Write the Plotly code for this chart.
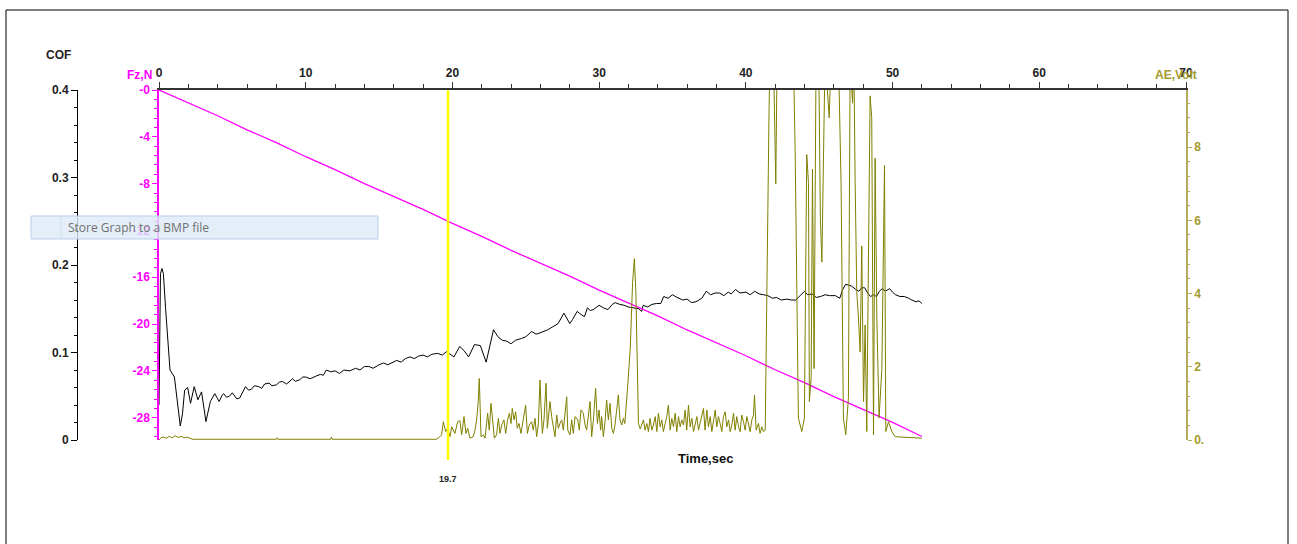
import plotly.graph_objects as go

# ---------------- data ----------------
# COF (time s, coefficient of friction)
cof_points = [
    (0.0, 0.04), (0.1, 0.19), (0.2, 0.196), (0.3, 0.19), (0.45, 0.15), (0.6, 0.12), (0.75, 0.08),
    (1.05, 0.072), (1.25, 0.04), (1.45, 0.016), (1.6, 0.03), (1.75, 0.057), (1.95, 0.06),
    (2.15, 0.042), (2.4, 0.061), (2.65, 0.046), (2.9, 0.055), (3.05, 0.04), (3.2, 0.021),
    (3.5, 0.044), (3.8, 0.053), (4.0, 0.047), (4.1, 0.044), (4.3, 0.051), (4.4, 0.053),
    (4.6, 0.049), (4.8, 0.050), (5.0, 0.054), (5.1, 0.052), (5.3, 0.047), (5.5, 0.048),
    (5.7, 0.055), (5.9, 0.061), (6.1, 0.057), (6.3, 0.058), (6.5, 0.062), (6.8, 0.061),
    (7.0, 0.059), (7.2, 0.064), (7.5, 0.065), (7.7, 0.062), (8.0, 0.063), (8.2, 0.066),
    (8.4, 0.067), (8.7, 0.064), (9.1, 0.070), (9.3, 0.067), (9.6, 0.069), (9.8, 0.072),
    (10.0, 0.072), (10.3, 0.070), (10.7, 0.073), (11.0, 0.075), (11.2, 0.074), (11.4, 0.080),
    (11.7, 0.078), (12.0, 0.079), (12.3, 0.076), (12.6, 0.080), (13.0, 0.079), (13.4, 0.082),
    (13.7, 0.080), (14.0, 0.084), (14.3, 0.084), (14.6, 0.082), (15.0, 0.086), (15.3, 0.088),
    (15.6, 0.086), (15.9, 0.089), (16.2, 0.091), (16.5, 0.089), (16.8, 0.093), (17.1, 0.095),
    (17.4, 0.093), (17.7, 0.096), (18.0, 0.097), (18.3, 0.095), (18.6, 0.098), (19.0, 0.099),
    (19.3, 0.097), (19.6, 0.101), (20.1, 0.095), (20.5, 0.107), (20.8, 0.102), (21.1, 0.095),
    (21.5, 0.109), (21.9, 0.108), (22.3, 0.089), (22.8, 0.126), (23.1, 0.118), (23.4, 0.114),
    (23.7, 0.113), (24.0, 0.110), (24.3, 0.114), (24.7, 0.116), (25.0, 0.118), (25.4, 0.124),
    (25.7, 0.121), (25.9, 0.122), (26.2, 0.124), (26.5, 0.126), (26.8, 0.129), (27.2, 0.133),
    (27.6, 0.145), (28.0, 0.133), (28.2, 0.138), (28.5, 0.147), (28.8, 0.143), (29.0, 0.141),
    (29.2, 0.151), (29.4, 0.148), (29.6, 0.149), (29.8, 0.152), (30.0, 0.154), (30.3, 0.151),
    (30.6, 0.149), (30.9, 0.155), (31.1, 0.157), (31.4, 0.155), (31.7, 0.154), (32.0, 0.152),
    (32.4, 0.151), (32.7, 0.150), (32.9, 0.147), (33.0, 0.154), (33.3, 0.152), (33.6, 0.155),
    (33.9, 0.156), (34.2, 0.156), (34.4, 0.164), (34.7, 0.162), (35.0, 0.166), (35.3, 0.163),
    (35.7, 0.160), (36.0, 0.161), (36.3, 0.157), (36.6, 0.158), (37.0, 0.162), (37.3, 0.170),
    (37.6, 0.166), (37.9, 0.168), (38.2, 0.168), (38.5, 0.165), (38.8, 0.169), (39.0, 0.167),
    (39.3, 0.172), (39.6, 0.168), (40.0, 0.169), (40.3, 0.166), (40.6, 0.170), (40.9, 0.167),
    (41.2, 0.166), (41.5, 0.165), (41.8, 0.162), (42.1, 0.163), (42.4, 0.160), (42.8, 0.161),
    (43.1, 0.160), (43.4, 0.160), (43.7, 0.165), (44.0, 0.170), (44.2, 0.166), (44.5, 0.167),
    (44.8, 0.163), (45.1, 0.164), (45.4, 0.166), (45.7, 0.165), (46.1, 0.165), (46.4, 0.162),
    (46.6, 0.172), (46.8, 0.178), (47.0, 0.177), (47.2, 0.176), (47.5, 0.172), (47.7, 0.170),
    (47.9, 0.174), (48.1, 0.174), (48.3, 0.168), (48.5, 0.164), (48.7, 0.166), (48.9, 0.164),
    (49.1, 0.170), (49.3, 0.173), (49.5, 0.170), (49.8, 0.173), (50.0, 0.169), (50.2, 0.166),
    (50.5, 0.164), (50.8, 0.164), (51.1, 0.162), (51.3, 0.160), (51.6, 0.158), (51.8, 0.159),
    (52.0, 0.156),
]
cof_t = [p[0] for p in cof_points]
cof_v = [p[1] for p in cof_points]

# Normal force Fz (time s, N)
fz_t = [0, 2, 4, 6, 8, 10, 12, 14, 16, 18, 20, 22, 24, 26, 28, 30, 32, 34, 36, 38, 40, 42, 44, 46,
        48, 50, 52]
fz_v = [0.0, -1.1, -2.2, -3.4, -4.5, -5.7, -6.8, -8.0, -9.1, -10.2, -11.4, -12.5, -13.7, -14.8,
        -15.9, -17.1, -18.2, -19.3, -20.5, -21.6, -22.7, -23.9, -25.0, -26.2, -27.3, -28.4, -29.6]

# Acoustic emission (time s, Volt) – values above the axis range are clipped like the original
ae_t = [0.0, 0.1, 0.3, 0.5, 0.7, 0.9, 1.1, 1.3, 1.5, 1.7, 1.9, 2.1, 2.3, 8.0, 8.05, 8.1, 11.7,
        11.75, 11.8, 18.9,
        19.04, 19.26, 19.38, 19.54, 19.67, 19.83, 19.95, 20.17, 20.36, 20.51, 20.63, 20.79, 20.92,
        21.04, 21.20, 21.42, 21.54, 21.65, 21.76, 21.83, 21.95, 22.11, 22.22, 22.40, 22.51, 22.63,
        22.74, 22.86, 23.01, 23.13, 23.24, 23.36, 23.51, 23.63, 23.76, 23.88, 23.99, 24.08, 24.20,
        24.31, 24.42, 24.54, 24.67, 24.83, 24.99, 25.11, 25.24, 25.40, 25.51, 25.63, 25.74, 25.86,
        25.97, 26.04, 26.13, 26.24, 26.38, 26.47, 26.65, 26.76, 26.88, 26.99, 27.11, 27.22, 27.33,
        27.45, 27.56, 27.67, 27.79, 27.86, 28.01, 28.13, 28.24, 28.36, 28.54, 28.65, 28.76, 28.92,
        29.04, 29.15, 29.26, 29.38, 29.49, 29.61, 29.76, 29.88, 29.99, 30.10, 30.17, 30.29, 30.40,
        30.51, 30.63, 30.74, 30.86, 30.97, 31.08, 31.20, 31.31, 31.42, 31.54, 31.65,
        31.75, 31.95, 32.12, 32.28, 32.40, 32.50, 32.60, 32.68, 32.80,
        33.02, 33.13, 33.25, 33.36, 33.47, 33.59, 33.70, 33.82, 33.93, 34.04, 34.16, 34.27, 34.38,
        34.50, 34.61, 34.72, 34.84, 34.95, 35.07, 35.18, 35.29, 35.41, 35.52, 35.63, 35.75, 35.86,
        35.97, 36.09, 36.20, 36.32, 36.43, 36.54, 36.66, 36.77, 36.88, 37.00, 37.11, 37.22, 37.34,
        37.45, 37.57, 37.68, 37.79, 37.91, 38.02, 38.13, 38.25, 38.36, 38.47, 38.59, 38.70, 38.82,
        38.93, 39.04, 39.16, 39.27, 39.38, 39.50, 39.61, 39.72, 39.84, 39.95, 40.07, 40.18, 40.29,
        40.41, 40.52, 40.59, 40.70, 40.86, 40.97, 41.09, 41.20, 41.32,
        41.40, 41.50, 41.58, 41.65, 41.88, 41.99, 42.04, 42.13, 42.90, 43.24, 43.36, 43.58, 43.81,
        43.99, 44.15, 44.27, 44.33, 44.45, 44.54, 44.65, 44.77, 44.88, 44.99, 45.08, 45.18, 45.29,
        45.40, 45.68, 45.81, 46.31, 46.49, 46.65, 46.81, 46.99, 47.11, 47.27, 47.36, 47.45, 47.56,
        47.68, 47.79, 47.90, 48.02, 48.13, 48.24, 48.36, 48.47, 48.58, 48.70, 48.81, 48.93, 49.08,
        49.27, 49.45, 49.54, 49.72, 49.95, 50.18, 52.0]
ae_v = [0.0, 0.05, 0.08, 0.05, 0.1, 0.06, 0.12, 0.07, 0.1, 0.06, 0.08, 0.05, 0.02, 0.02, 0.06, 0.02,
        0.02, 0.08, 0.02, 0.02,
        0.05, 0.14, 0.50, 0.23, 0.32, 0.09, 0.36, 0.18, 0.50, 0.53, 0.14, 0.64, 0.18,
        0.32, 0.05, 0.09, 0.27, 0.55, 1.05, 1.68, 0.09, 0.14, 0.05, 0.73, 0.27, 1.00,
        0.55, 0.05, 0.14, 0.59, 0.18, 0.41, 0.55, 0.18, 0.55, 0.73, 0.45, 0.86, 0.55,
        0.77, 0.32, 0.45, 0.18, 0.55, 0.95, 0.18, 0.41, 0.50, 0.27, 0.59, 0.09, 0.45,
        1.64, 0.91, 0.18, 0.55, 1.55, 0.32, 1.05, 0.64, 0.36, 0.09, 0.68, 0.32, 0.45,
        0.55, 0.27, 0.73, 1.18, 0.27, 0.14, 0.55, 0.18, 0.64, 0.55, 0.27, 0.82, 0.73,
        0.41, 0.27, 0.68, 1.05, 0.09, 0.55, 1.41, 0.45, 0.82, 0.27, 0.64, 0.09, 0.50,
        1.09, 0.55, 1.00, 0.32, 0.18, 0.41, 0.82, 1.23, 0.55, 0.41, 0.59,
        0.45, 1.5, 2.5, 4.3, 4.95, 4.1, 1.7, 0.45, 0.3,
        0.55, 0.27, 0.45, 0.23, 0.59, 0.27, 0.41, 0.64, 0.23, 0.73, 0.36, 0.55, 0.23,
        0.45, 0.64, 0.95, 0.27, 0.59, 0.36, 0.73, 0.23, 0.64, 0.36, 0.55, 0.41, 0.82,
        0.27, 0.95, 0.36, 0.59, 0.23, 0.41, 0.64, 0.27, 0.45, 0.64, 0.86, 0.27, 0.82,
        0.36, 0.64, 0.23, 0.55, 0.82, 0.36, 0.64, 0.45, 0.23, 0.64, 0.77, 0.36, 0.55,
        0.23, 0.41, 0.73, 0.27, 0.64, 0.36, 0.23, 0.68, 0.50, 0.27, 0.64, 0.41, 0.23,
        0.55, 0.68, 1.23, 0.27, 0.45, 0.18, 0.36, 0.23, 0.27,
        2.5, 6.3, 9.0, 10.5, 10.5, 7.4, 7.0, 10.5, 10.5, 10.5, 7.9, 0.6, 0.23,
        0.6, 7.8, 7.0, 1.05, 1.7, 7.4, 1.95, 9.5, 10.5, 9.5, 6.05, 4.86, 7.1,
        10.5, 8.8, 10.5, 10.5, 7.0, 0.6, 0.14, 1.14, 10.5, 9.2, 10.5, 7.0, 4.05,
        3.3, 2.4, 5.3, 1.05, 3.14, 0.23, 5.1, 9.4, 8.8, 0.14, 7.7, 3.3, 0.6,
        1.95, 7.5, 0.23, 0.5, 0.23, 0.09, 0.05]

x_ticks = [0, 10, 20, 30, 40, 50, 60, 70]
cof_ticks = [0, 0.1, 0.2, 0.3, 0.4]
cof_labels = ["0", "0.1", "0.2", "0.3", "0.4"]
fz_ticks = [0, -4, -8, -12, -16, -20, -24, -28]
fz_labels = ["-0", "-4", "-8", "-12", "-16", "-20", "-24", "-28"]
ae_ticks = [0, 2, 4, 6, 8]
ae_labels = ["0.", "2", "4", "6", "8"]
marker_time = 19.7

# ---------------- style ----------------
MAG = "#ff00ff"
OLIVE = "#808000"
OLIVE_AX = "#b3ad5a"
OLIVE_TXT = "#a39b2c"
FONT = "Liberation Sans, Arial, sans-serif"

L, R, T, B = 60, 111, 90, 104
W, H = 1297, 544
PW = W - L - R
PH = H - T - B


def px_x(p):
    return (p - L) / PW


def px_y(p):
    return (H - B - p) / PH


fig = go.Figure()
fig.add_trace(go.Scatter(x=cof_t, y=cof_v, mode="lines", line=dict(color="black", width=1),
                         yaxis="y", showlegend=False, hoverinfo="skip"))
fig.add_trace(go.Scatter(x=fz_t, y=fz_v, mode="lines", line=dict(color=MAG, width=1.3),
                         yaxis="y2", showlegend=False, hoverinfo="skip"))
fig.add_trace(go.Scatter(x=ae_t, y=ae_v, mode="lines", line=dict(color=OLIVE, width=1),
                         yaxis="y3", showlegend=False, hoverinfo="skip"))

fig.update_layout(
    width=W, height=H,
    margin=dict(l=L, r=R, t=T, b=B),
    paper_bgcolor="white", plot_bgcolor="white",
    showlegend=False,
    xaxis=dict(domain=[px_x(159), 1], range=[0, 70], side="top", anchor="y",
               tickmode="array", tickvals=x_ticks, ticks="outside", ticklen=6, tickwidth=1,
               tickcolor="#333333", showline=True, linecolor="#333333", linewidth=1.5,
               showgrid=False, zeroline=False,
               tickfont=dict(family=FONT, size=12, weight="bold", color="#222222"),
               minor=dict(dtick=2, ticks="outside", ticklen=4, tickcolor="#333333", showgrid=False)),
    yaxis=dict(range=[0, 0.4], anchor="free", position=px_x(77), side="left",
               tickmode="array", tickvals=cof_ticks, ticktext=cof_labels,
               ticks="outside", ticklen=6, tickcolor="black", showline=True, linecolor="black",
               linewidth=1, showgrid=False, zeroline=False,
               tickfont=dict(family=FONT, size=12, weight="bold", color="#222222"),
               minor=dict(dtick=0.02, ticks="outside", ticklen=3, tickcolor="black", showgrid=False)),
    yaxis2=dict(range=[-29.9, 0], overlaying="y", anchor="x", side="left",
                tickmode="array", tickvals=fz_ticks, ticktext=fz_labels,
                ticks="outside", ticklen=5, tickcolor=MAG, tickwidth=1.2, showline=True,
                linecolor=MAG, linewidth=1.5, showgrid=False, zeroline=False,
                tickfont=dict(family=FONT, size=12, weight="bold", color=MAG),
                minor=dict(dtick=0.8, ticks="outside", ticklen=3, tickcolor=MAG, showgrid=False)),
    yaxis4=dict(range=[-29.9, 0], overlaying="y", anchor="x", side="left",
                tickmode="array", tickvals=fz_ticks, showticklabels=False,
                ticks="inside", ticklen=5, tickcolor=MAG, tickwidth=1.2, showline=False,
                showgrid=False, zeroline=False,
                minor=dict(dtick=0.8, ticks="inside", ticklen=3, tickcolor=MAG, showgrid=False)),
    yaxis3=dict(range=[0, 9.56], overlaying="y", anchor="x", side="right",
                tickmode="array", tickvals=ae_ticks, ticktext=ae_labels,
                ticks="outside", ticklen=4, tickcolor=OLIVE_AX, showline=True,
                linecolor=OLIVE_AX, linewidth=1.5, showgrid=False, zeroline=False,
                tickfont=dict(family=FONT, size=12, weight="bold", color=OLIVE_TXT),
                minor=dict(dtick=0.4, ticks="outside", ticklen=2, tickcolor=OLIVE_AX, showgrid=False)),
)

shapes = [
    # outer frame
    dict(type="rect", xref="paper", yref="paper", x0=px_x(6), x1=px_x(1288), y0=px_y(560),
         y1=px_y(10), line=dict(color="black", width=1), fillcolor="rgba(0,0,0,0)", layer="below"),
    # yellow time marker
    dict(type="line", xref="x", yref="paper", x0=marker_time, x1=marker_time, y0=px_y(460),
         y1=1, line=dict(color="#ffff00", width=2.5)),
    # tooltip box
    dict(type="rect", xref="paper", yref="paper", x0=px_x(31), x1=px_x(378), y0=px_y(239),
         y1=px_y(216), line=dict(color="#b8cfe9", width=1), fillcolor="rgba(222,234,247,0.82)",
         layer="above"),
    dict(type="line", xref="paper", yref="paper", x0=px_x(61), x1=px_x(61), y0=px_y(238),
         y1=px_y(217), line=dict(color="#cfdcec", width=1), layer="above"),
]
fig.update_layout(shapes=shapes)

annotations = [
    dict(text="COF", xref="paper", yref="paper", x=px_x(58), y=px_y(55), showarrow=False,
         font=dict(family=FONT, size=12, weight="bold", color="#222222"), xanchor="center",
         yanchor="middle"),
    dict(text="Fz,N", xref="paper", yref="paper", x=px_x(154), y=px_y(75), showarrow=False,
         font=dict(family=FONT, size=12, weight="bold", color=MAG), xanchor="right",
         yanchor="middle"),
    dict(text="AE,Volt", xref="paper", yref="paper", x=px_x(1199), y=px_y(75), showarrow=False,
         font=dict(family=FONT, size=12, weight="bold", color=OLIVE_TXT), xanchor="right",
         yanchor="middle", bgcolor="rgba(255,255,255,0)"),
    dict(text="Time,sec", xref="paper", yref="paper", x=px_x(705), y=px_y(458), showarrow=False,
         font=dict(family=FONT, size=13, weight="bold", color="#111111"), xanchor="center",
         yanchor="middle"),
    dict(text=str(marker_time), xref="x", yref="paper", x=marker_time, y=px_y(479),
         showarrow=False, font=dict(family=FONT, size=9, weight="bold", color="#222222"),
         xanchor="center", yanchor="middle"),
    dict(text="Store Graph to a BMP file", xref="paper", yref="paper", x=px_x(66), y=px_y(228),
         showarrow=False, font=dict(family="Open Sans, DejaVu Sans, sans-serif", size=12,
                                    color="#707070"), xanchor="left", yanchor="middle"),
]
fig.update_layout(annotations=annotations)

fig.write_html("out.html",
               config={"displayModeBar": False},
               post_script="document.body.style.margin='0';document.body.style.padding='0';"
                           "document.body.style.overflow='hidden';")
